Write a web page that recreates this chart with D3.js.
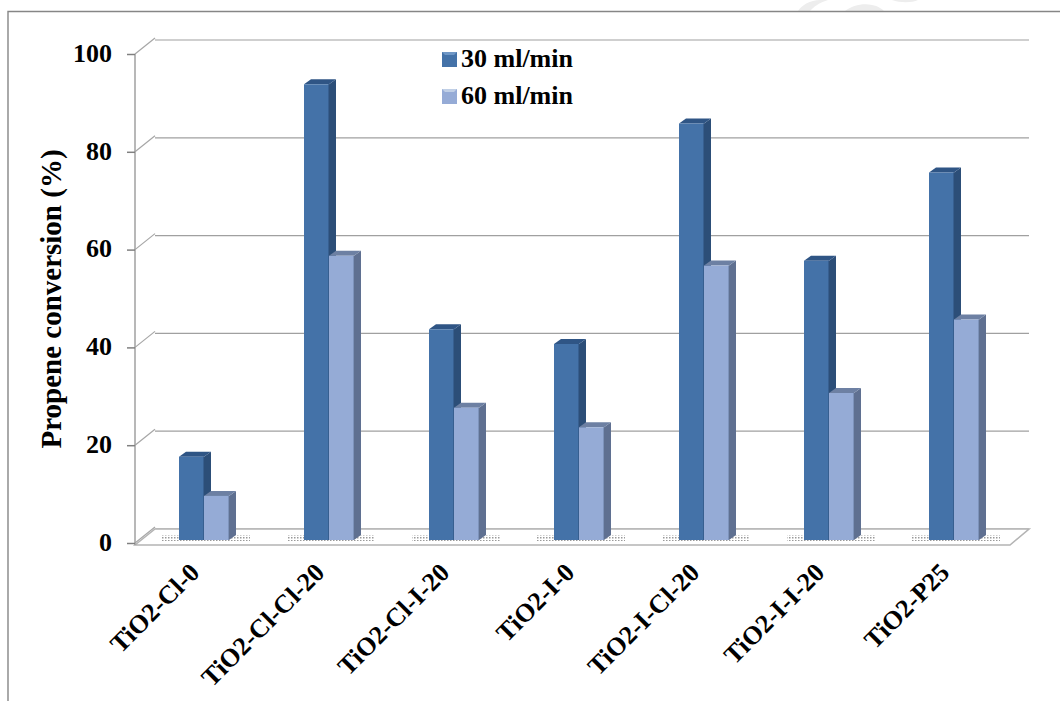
<!DOCTYPE html>
<html lang="en">
<head>
<meta charset="utf-8">
<title>Propene conversion</title>
<script src="https://cdn.jsdelivr.net/npm/d3@7"></script>
<style>
	html, body { margin: 0; padding: 0; background: #fff; }
	svg { display: block; }
	text { font-family: "Liberation Serif", serif; font-weight: bold; fill: #000; }
</style>
</head>
<body>
<script>

var categories = ["TiO2-Cl-0", "TiO2-Cl-Cl-20", "TiO2-Cl-I-20", "TiO2-I-0", "TiO2-I-Cl-20", "TiO2-I-I-20", "TiO2-P25"];
var flow30 = [17, 93, 43, 40, 85, 57, 75];
var flow60 = [9, 58, 27, 23, 56, 30, 45];
var seriesNames = ["30 ml/min", "60 ml/min"];
var yTicks = [0, 20, 40, 60, 80, 100];

var width = 1060, height = 701;
var dx = 20, dy = 16;      // depth of the floor
var barDx = 7, barDy = 5;  // depth of a bar

var colors = [
	{front: "#4472a8", side: "#2c4e78", top: "#2f5585", edge: "#375f90", shine: "#6f97c6"},
	{front: "#95abd6", side: "#5f7091", top: "#6d80a3", edge: "#7d93bb", shine: "#c0cfe6"}
];

var svg = d3.select("body").append("svg")
	.attr("width", width)
	.attr("height", height);

var defs = svg.append("defs");

var dots = defs.append("pattern")
	.attr("id", "dots")
	.attr("width", 3)
	.attr("height", 3)
	.attr("patternUnits", "userSpaceOnUse");
dots.append("rect").attr("width", 1.5).attr("height", 1.5).attr("fill", "#9a9a9a");

// what is left of the faint stamp above the frame
svg.append("g")
	.attr("fill", "#ededed")
	.selectAll("path")
	.data(["M798,11C802,5 810,0 820,0H828C818,3 814,7 810,11Z", "M845,11C852,6 862,3 872,5C878,6 882,9 884,11Z", "M892,0H918C912,3 900,3 892,0Z"])
	.enter()
	.append("path")
	.attr("d", function(d) { return d; });

// frame
svg.append("path")
	.attr("d", "M8,701V11.5H1060")
	.attr("fill", "none")
	.attr("stroke", "#868686")
	.attr("stroke-width", 1.4);

var y = d3.scaleLinear().domain([0, 100]).range([543, 54]);
var barY = d3.scaleLinear().domain([0, 100]).range([540, 50]);

var x0 = d3.scaleBand().domain(categories).range([135, 1010]).paddingInner(0).paddingOuter(0);
var x1 = d3.scaleBand().domain([0, 1]).range([44, 94]);

// back wall gridlines
svg.append("g").selectAll("line")
	.data(yTicks)
	.enter()
	.append("line")
	.attr("x1", 135 + dx)
	.attr("x2", 1029)
	.attr("y1", function(d) { return y(d) - dy + 2; })
	.attr("y2", function(d) { return y(d) - dy + 2; })
	.attr("stroke", "#a0a0a0")
	.attr("stroke-width", 1.2);

// wall edge and floor
var floorPts = [[135, 545], [155, 529], [1029, 529], [1010, 545]];
svg.append("path")
	.attr("d", "M" + floorPts.join("L") + "Z")
	.attr("fill", "#fff")
	.attr("stroke", "#b4b4b4")
	.attr("stroke-width", 1.6);

svg.selectAll(".diag")
	.data(yTicks)
	.enter()
	.append("line")
	.attr("class", "diag")
	.attr("x1", 135)
	.attr("x2", 155)
	.attr("y1", function(d) { return y(d); })
	.attr("y2", function(d) { return y(d) - dy; })
	.attr("stroke", "#a6a6a6")
	.attr("stroke-width", 1.2);

svg.append("line")
	.attr("x1", 135).attr("x2", 135)
	.attr("y1", y(100)).attr("y2", 545)
	.attr("stroke", "#a0a0a0")
	.attr("stroke-width", 1.5);

// y axis ticks and labels
var yAxis = d3.axisLeft(y).tickValues(yTicks).tickSize(8).tickPadding(15).tickFormat(d3.format("d"));
var yG = svg.append("g").attr("transform", "translate(135,0)").call(yAxis);
yG.select(".domain").remove();
yG.selectAll("line").attr("stroke", "#808080").attr("stroke-width", 1.5);
yG.selectAll("text")
	.attr("font-size", 26)
	.attr("font-family", "Liberation Serif")
	.attr("dy", "0.28em");

// shadows under the bars
svg.selectAll(".shadow")
	.data(categories)
	.enter()
	.append("rect")
	.attr("class", "shadow")
	.attr("x", function(d) { return x0(d) + 27; })
	.attr("y", 535)
	.attr("width", 88)
	.attr("height", 6)
	.attr("fill", "url(#dots)");

// bars
[flow30, flow60].forEach(function(values, s) {
	var g = svg.append("g").attr("class", "series" + s);
	var c = colors[s];
	var bw = x1.bandwidth();

	var bars = g.selectAll("g")
		.data(values)
		.enter()
		.append("g")
		.attr("transform", function(d, i) { return "translate(" + (x0(categories[i]) + x1(s)) + ",0)"; });

	bars.append("path")
		.attr("fill", c.side)
		.attr("d", function(d) {
			var t = barY(d);
			return "M" + bw + "," + t + "l" + barDx + "," + (-barDy) + "V" + (barY(0) - barDy) + "L" + bw + "," + barY(0) + "Z";
		});
	bars.append("path")
		.attr("fill", c.top)
		.attr("d", function(d) {
			var t = barY(d);
			return "M0," + t + "l" + barDx + "," + (-barDy) + "h" + bw + "l" + (-barDx) + "," + barDy + "Z";
		});
	bars.append("rect")
		.attr("y", function(d) { return barY(d); })
		.attr("width", bw)
		.attr("height", function(d) { return barY(0) - barY(d); })
		.attr("fill", c.front);
	bars.append("line")
		.attr("x1", bw - 0.5)
		.attr("x2", bw - 0.5)
		.attr("y1", function(d) { return barY(d); })
		.attr("y2", barY(0))
		.attr("stroke", c.edge);
});

// category labels
svg.selectAll(".cat")
	.data(categories)
	.enter()
	.append("text")
	.attr("class", "cat")
	.attr("text-anchor", "end")
	.attr("font-size", 26)
	.attr("transform", function(d) { return "translate(" + (x0(d) + 66) + ",574) rotate(-45)"; })
	.text(function(d) { return d; });

// y title
svg.append("text")
	.attr("text-anchor", "middle")
	.attr("font-size", 29)
	.attr("transform", "translate(61,299) rotate(-90)")
	.text("Propene conversion (%)");

// legend
var legendY = d3.scalePoint().domain(seriesNames).range([59, 96]);
var legend = svg.selectAll(".legend")
	.data(seriesNames)
	.enter()
	.append("g")
	.attr("class", "legend")
	.attr("transform", function(d) { return "translate(442," + legendY(d) + ")"; });
legend.append("rect")
	.attr("x", 0).attr("y", -7)
	.attr("width", 15).attr("height", 15)
	.attr("fill", function(d, i) { return colors[i].front; });
legend.append("path")
	.attr("d", "M0,-7h15l-3,3h-9Z")
	.attr("fill", function(d, i) { return colors[i].shine; });
legend.append("text")
	.attr("x", 19)
	.attr("y", 8)
	.attr("font-size", 26)
	.text(function(d) { return d; });

</script>
</body>
</html>
